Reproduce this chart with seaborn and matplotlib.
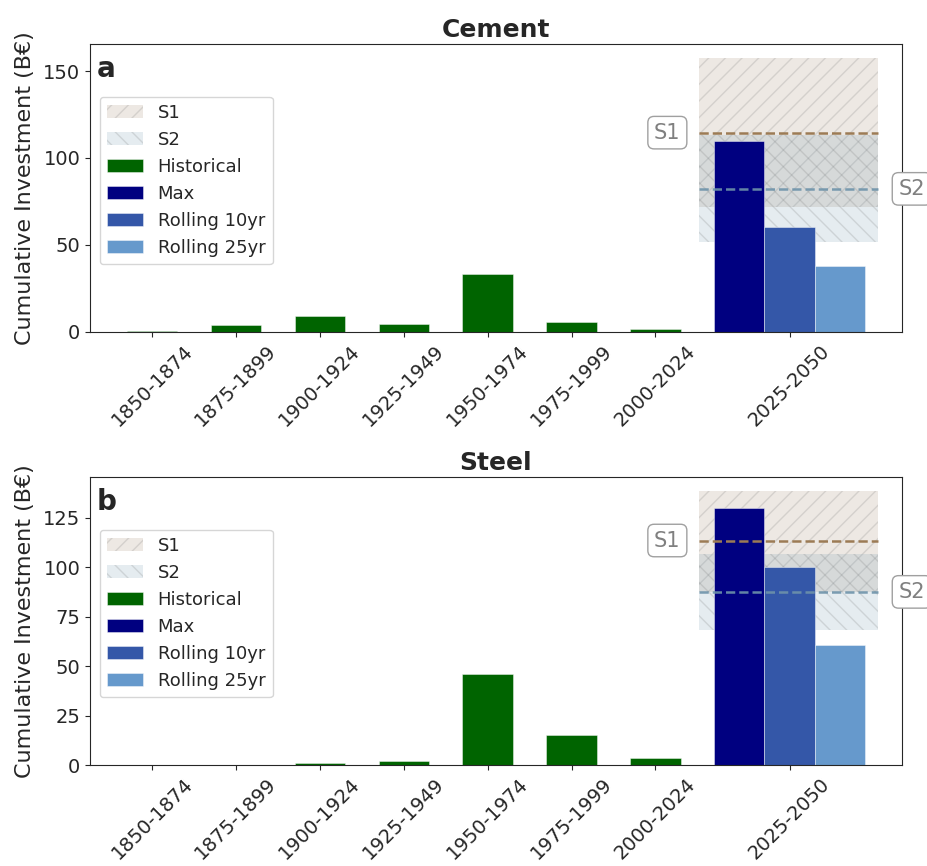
import numpy as np
import pandas as pd
import matplotlib
matplotlib.use("Agg")
import matplotlib.pyplot as plt
import matplotlib.transforms as mtransforms
from matplotlib.patches import Patch
from matplotlib.ticker import MultipleLocator
import seaborn as sns

# ---------------- data ----------------
periods = ["1850-1874", "1875-1899", "1900-1924", "1925-1949",
           "1950-1974", "1975-1999", "2000-2024"]
future_label = "2025-2050"
future_names = ["Max", "Rolling 10yr", "Rolling 25yr"]

cement_hist = [0.4, 3.8, 9.0, 4.4, 33.0, 5.4, 1.2]
cement_future = [109.6, 60.1, 37.9]
steel_hist = [0.05, 0.1, 0.85, 2.0, 45.9, 15.2, 3.7]
steel_future = [130.0, 100.1, 60.6]

# scenario: (central line, band low, band high)
cement_s1 = [114.6, 71.8, 157.8]
cement_s2 = [82.2, 51.5, 113.0]
steel_s1 = [113.6, 87.6, 138.8]
steel_s2 = [87.6, 68.2, 106.9]

# ---------------- style ----------------
sns.set_style("ticks")
plt.rcParams["font.family"] = ["DejaVu Sans"]
plt.rcParams["hatch.linewidth"] = 1.0

colors = {"Historical": "#006400", "Max": "#000080",
          "Rolling 10yr": "#3457A8", "Rolling 25yr": "#6699CC"}
s1_fill, s1_line = "#A58C73", "#9C7B55"
s2_fill, s2_line = "#7DA0B4", "#6E93AA"

hist_pos = np.arange(len(periods), dtype=float)
fut_pos = len(periods) + 0.6 * np.arange(len(future_names))

fig = plt.figure(figsize=(9.28, 8.66), dpi=100)
ax_a = fig.add_axes([0.097, 0.6172, 0.875, 0.332])
ax_b = fig.add_axes([0.097, 0.1166, 0.875, 0.3326])


def draw(ax, hist, fut, s1, s2, title, letter, ystep):
    df = pd.DataFrame({
        "pos": np.concatenate([hist_pos, fut_pos]),
        "value": list(hist) + list(fut),
        "series": ["Historical"] * len(hist) + future_names,
    })
    sns.barplot(data=df, x="pos", y="value", hue="series",
                palette=colors, native_scale=True, width=1.0,
                dodge=False, saturation=1, legend=False, ax=ax,
                edgecolor=(1, 1, 1, 0.5), linewidth=0.6, zorder=2)

    for (c, lo, hi), fc, lc, hatch in [(s1, s1_fill, s1_line, "//"),
                                       (s2, s2_fill, s2_line, "\\\\")]:
        ax.axhspan(lo, hi, xmin=0.75, xmax=0.97, facecolor=fc,
                   edgecolor="#707070", hatch=hatch, linewidth=0,
                   alpha=0.2, zorder=0.5)
    ax.axhline(s1[0], xmin=0.75, xmax=0.97, color=s1_line, ls="--",
               lw=1.8, zorder=3)
    ax.axhline(s2[0], xmin=0.75, xmax=0.97, color=s2_line, ls="--",
               lw=1.8, alpha=0.9, zorder=3)

    trans = mtransforms.blended_transform_factory(ax.transAxes, ax.transData)
    box = dict(boxstyle="round,pad=0.3", fc="white", ec="#A0A0A0", lw=1)
    ax.text(0.711, s1[0], "S1", transform=trans, ha="center", va="center",
            fontsize=15, color="#808080", bbox=box, clip_on=False, zorder=5)
    ax.text(1.012, s2[0], "S2", transform=trans, ha="center", va="center",
            fontsize=15, color="#808080", bbox=box, clip_on=False, zorder=5)

    ax.set_xticks(list(hist_pos) + [fut_pos[1]])
    ax.set_xticklabels(periods + [future_label], rotation=45, fontsize=14)
    ax.yaxis.set_major_locator(MultipleLocator(ystep))
    ax.tick_params(axis="y", labelsize=14)
    ax.set_xlabel("")
    ax.set_ylabel("Cumulative Investment (B\u20ac)", fontsize=16, labelpad=6)
    ax.set_title(title, fontsize=18, fontweight="bold", pad=5)
    ax.text(0.008, 0.963, letter, transform=ax.transAxes, fontsize=20,
            fontweight="bold", va="top", ha="left")

    handles = [
        Patch(facecolor=s1_fill, edgecolor="#707070", hatch="//", alpha=0.2, lw=0, label="S1"),
        Patch(facecolor=s2_fill, edgecolor="#707070", hatch="\\\\", alpha=0.2, lw=0, label="S2"),
    ] + [Patch(facecolor=colors[k], edgecolor=(1, 1, 1, 0.5), lw=0.6, label=k)
         for k in ["Historical"] + future_names]
    ax.legend(handles=handles, loc="upper left", bbox_to_anchor=(0.012, 0.817),
              borderaxespad=0, fontsize=13, labelspacing=0.5, frameon=True)


draw(ax_a, cement_hist, cement_future, cement_s1, cement_s2, "Cement", "a", 50)
draw(ax_b, steel_hist, steel_future, steel_s1, steel_s2, "Steel", "b", 25)

fig.savefig("out.png", dpi=100)
